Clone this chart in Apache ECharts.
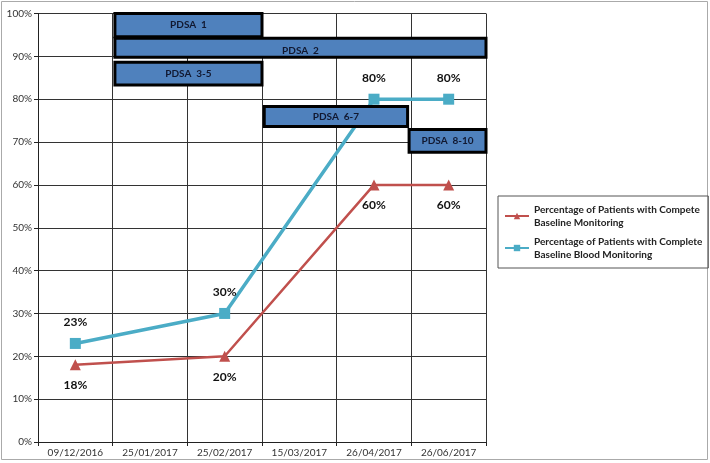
<!DOCTYPE html>
<html><head><meta charset="utf-8">
<script src="https://cdn.jsdelivr.net/npm/echarts@6/dist/echarts.min.js"></script>
<style>html,body{margin:0;padding:0;background:#fff}#c{width:710px;height:463px}</style>
</head><body><div id="c"></div>
<script>
var categories = ['09/12/2016','25/01/2017','25/02/2017','15/03/2017','26/04/2017','26/06/2017'];
var redName = 'Percentage of Patients with Compete\nBaseline Monitoring';
var blueName = 'Percentage of Patients with Complete\nBaseline Blood Monitoring';
var redValues = [18, null, 20, null, 60, 60];
var blueValues = [23, null, 30, null, 80, 80];
var yTicks = [0, 100, 10];
// PDSA phases: label, start (category units), end, low %, high %
var pdsaLabels = ['PDSA  1', 'PDSA  2', 'PDSA  3-5', 'PDSA  6-7', 'PDSA  8-10'];
var pdsaStart = [1.03, 1.03, 1.03, 3.03, 4.97];
var pdsaEnd = [3.0, 6.0, 3.0, 4.95, 6.0];
var pdsaLow = [94.6, 89.8, 83.3, 73.6, 67.6];
var pdsaHigh = [100, 94.2, 88.6, 78.3, 72.9];

var FONT = 'Lato';
var boxData = pdsaLabels.map(function(l, i){ return [pdsaStart[i], pdsaEnd[i], pdsaLow[i], pdsaHigh[i], l]; });

var chart = echarts.init(document.getElementById('c'));
chart.setOption({
  animation: false,
  textStyle: {fontFamily: FONT},
  graphic: [{type:'rect', shape:{x:1.5,y:1.5,width:706,height:458}, style:{fill:null, stroke:'#aaa', lineWidth:1}, silent:true, z:-1}],
  grid: {left: 38, top: 13.5, right: 224, bottom: 21},
  legend: {
    orient: 'vertical', left: 498, top: 196,
    borderColor: '#555', borderWidth: 1, padding: [7, 6, 7, 6],
    itemGap: 6, itemWidth: 24, itemHeight: 8,
    textStyle: {fontFamily: FONT, fontSize: 10, fontWeight: 'bold', color: '#222', lineHeight: 13},
    data: [redName, blueName]
  },
  xAxis: [{
    type: 'category', data: categories, boundaryGap: true,
    axisLine: {lineStyle: {color: '#222', width: 1}},
    axisTick: {show: true, interval: 0, length: 4, lineStyle: {color: '#222'}},
    axisLabel: {interval: 0, fontFamily: FONT, fontSize: 10, color: '#333', margin: 6},
    splitLine: {show: true, interval: 0, lineStyle: {color: '#333', width: 1}}
  }, {
    type: 'value', min: 0, max: 6, show: false
  }],
  yAxis: {
    type: 'value', min: yTicks[0], max: yTicks[1], interval: yTicks[2],
    axisLine: {show: true, lineStyle: {color: '#222'}},
    axisTick: {show: true, length: 4, lineStyle: {color: '#222'}},
    axisLabel: {formatter: '{value}%', fontFamily: FONT, fontSize: 10, color: '#333', margin: 6},
    splitLine: {show: true, lineStyle: {color: '#333', width: 1}}
  },
  series: [{
    name: redName, type: 'line', data: redValues, connectNulls: true,
    symbol: 'triangle', symbolSize: 11,
    lineStyle: {color: '#C0504D', width: 2.5},
    itemStyle: {color: '#C0504D'},
    label: {show: true, position: 'bottom', distance: 9, formatter: '{c}%', fontFamily: FONT, fontSize: 12, fontWeight: 'bold', color: '#111'},
    z: 3
  }, {
    name: blueName, type: 'line', data: blueValues, connectNulls: true,
    symbol: 'rect', symbolSize: 11,
    lineStyle: {color: '#4BACC6', width: 3.5},
    itemStyle: {color: '#4BACC6'},
    label: {show: true, position: 'top', distance: 10, formatter: '{c}%', fontFamily: FONT, fontSize: 12, fontWeight: 'bold', color: '#111'},
    z: 3
  }, {
    type: 'custom', xAxisIndex: 1, yAxisIndex: 0, data: boxData, z: 5,
    renderItem: function(params, api){
      var p1 = api.coord([api.value(0), api.value(3)]);
      var p2 = api.coord([api.value(1), api.value(2)]);
      var label = boxData[params.dataIndex][4];
      return {
        type: 'group', children: [{
          type: 'rect',
          shape: {x: p1[0], y: p1[1], width: p2[0]-p1[0], height: p2[1]-p1[1]},
          style: {fill: '#4F81BD', stroke: '#000', lineWidth: 3}
        }, {
          type: 'text',
          style: {text: label, x: (p1[0]+p2[0])/2, y: (p1[1]+p2[1])/2 + (params.dataIndex===1?3:0),
            textAlign: 'center', textVerticalAlign: 'middle',
            font: 'bold 10px ' + FONT, fill: '#111830'}
        }]
      };
    }
  }]
});
</script></body></html>
